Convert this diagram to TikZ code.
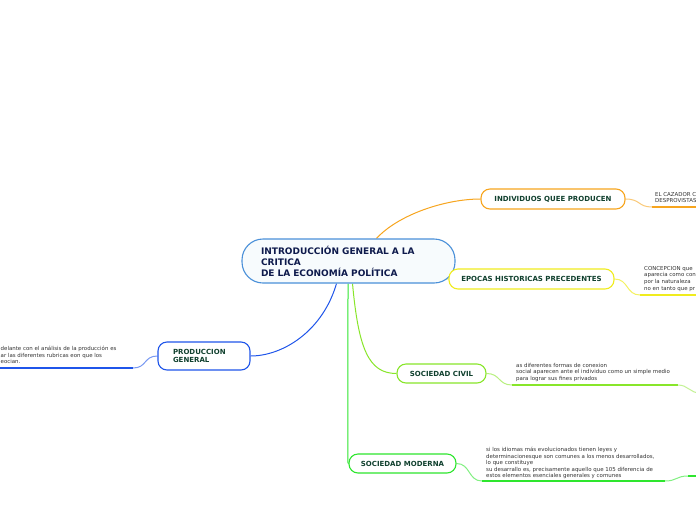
\documentclass[tikz,border=0pt]{standalone}
\usepackage{fontspec}
\setmainfont{DejaVu Sans}
\usetikzlibrary{calc, positioning}
\definecolor{mainblue}{HTML}{4A90D9}
\definecolor{mainfill}{HTML}{F7FBFD}
\definecolor{maintext}{HTML}{0E1A4C}
\definecolor{topictext}{HTML}{10402E}
\definecolor{notetext}{HTML}{333333}
\definecolor{myorange}{HTML}{F7A51E}
\definecolor{myyellow}{HTML}{F0EC1E}
\definecolor{mylime}{HTML}{88E62A}
\definecolor{mygreen}{HTML}{2EE62E}
\definecolor{myblue}{HTML}{1F55EA}
\pgfdeclarelayer{links}
\pgfsetlayers{links,main}
\tikzset{
	mainnode/.style={
			draw=mainblue,
			fill=mainfill,
			line width=1.1pt,
			rounded corners=21pt,
			text=maintext,
			font=\fontsize{9}{11}\selectfont\bfseries,
			text width=175pt,
			align=left,
			inner xsep=19pt,
			minimum height=44pt
		},
	topicnode/.style={
			draw=#1,
			fill=white,
			line width=1.1pt,
			rounded corners=9pt,
			text=topictext,
			font=\fontsize{7}{8.4}\selectfont\bfseries,
			inner sep=0pt,
			minimum height=19pt
		},
	notenode/.style={
			anchor=north west,
			inner sep=0pt,
			text=notetext,
			align=left,
			font=\fontsize{5.45}{6.6}\selectfont
		},
	linkline/.style={
			draw=#1,
			line width=1pt
		},
	underline/.style={
			draw=#1,
			line width=1.6pt
		}
}

\begin{document}
\begin{tikzpicture}[x=1pt, y=-1pt]
\begin{pgfonlayer}{links}
\fill[white] (0,0) rectangle (696,520);
\end{pgfonlayer}
\useasboundingbox (0,0) rectangle (696,520);
\clip (0,0) rectangle (696,520);

\node[mainnode] (n0) at (348.5,261) {INTRODUCCIÓN GENERAL A LA\\CRITICA\\DE LA ECONOMÍA POLÍTICA};

\node[topicnode=myorange, minimum width=144pt, minimum height=20pt] (n1) at (553,199) {INDIVIDUOS QUEE PRODUCEN};
\node[topicnode=myyellow, minimum width=165pt, minimum height=20pt] (n2) at (531.5,279) {EPOCAS HISTORICAS PRECEDENTES};
\node[topicnode=mylime, minimum width=89pt] (n3) at (441.5,373.5) {SOCIEDAD CIVIL};
\node[topicnode=mygreen, minimum width=107pt] (n4) at (402.5,463.5) {SOCIEDAD MODERNA};
\node[topicnode=myblue, minimum width=92pt, minimum height=28pt, text width=62pt, align=left] (n5) at (204,356) {PRODUCCION\\GENERAL};

% notes
\node[notenode] (t1) at (655,192) {EL CAZADOR C\\DESPROVISTAS};
\node[notenode] (t2) at (644,266) {CONCEPCION que\\aparecia como con\\por la naturaleza\\no en tanto que pr};
\node[notenode] (t3) at (516,363) {as diferentes formas de conexion\\social aparecen ante el individuo como un simple medio\\para lograr sus fines privados};
\node[notenode] (t4) at (486,447) {si los idiomas más evolucionados tienen leyes y\\determinacionesque son comunes a los menos desarrollados,\\lo que constituye\\su desarrallo es, precisamente aquello que 105 diferencia de\\estos elementos esenciales generales y comunes};
\node[notenode] (t5) at (0.5,346) {delante con el análisis de la producción es\\ar las diferentes rubricas eon que los\\eocian.};

\coordinate (u1) at (652,207);
\coordinate (u1e) at (700,207);
\coordinate (u2) at (640,295);
\coordinate (u2e) at (700,295);
\coordinate (u3) at (512,385);
\coordinate (u3e) at (678,385);
\coordinate (u3f) at (700,393);
\coordinate (u4) at (482,481);
\coordinate (u4e) at (665,481);
\coordinate (u4f) at (688,476);
\coordinate (u4g) at (700,476);
\coordinate (u5) at (133,368);
\coordinate (u5e) at (-4,368);

\begin{pgfonlayer}{links}
% topic links
\draw[linkline=myorange] ([xshift=28pt]n0.north) .. controls +(22,-24) and +(-35,0) .. (n1.west);
\draw[linkline=myyellow] ($(n0.east)+(-4,8)$) .. controls +(0,5) and +(-6,0) .. (n2.west);
\draw[linkline=mylime] ($(n0.south)+(4,0)$) .. controls +(6,65) and +(-28,0) .. (n3.west);
\draw[linkline=mygreen] ($(n0.south)+(-0.5,0)$) -- ($(n4.west)+(-0.5,-4)$) .. controls +(0,4) .. (n4.west);
\draw[linkline=myblue] ($(n0.south)+(-12,0)$) .. controls +(-14,48) and +(32,0) .. (n5.east);

% note links
\draw[linkline=myorange!60] (n1.east) .. controls +(15,0) and +(-14,0) .. (u1);
\draw[underline=myorange] (u1) -- (u1e);
\draw[linkline=myyellow!70] (n2.east) .. controls +(14,0) and +(-14,0) .. (u2);
\draw[underline=myyellow] (u2) -- (u2e);
\draw[linkline=mylime!60] (n3.east) .. controls +(14,0) and +(-14,0) .. (u3);
\draw[underline=mylime] (u3) -- (u3e);
\draw[linkline=mylime!50] (u3e) .. controls +(10,0) and +(-10,0) .. (u3f);
\draw[linkline=mygreen!60] (n4.east) .. controls +(14,0) and +(-14,0) .. (u4);
\draw[underline=mygreen] (u4) -- (u4e);
\draw[linkline=mygreen!60] (u4e) .. controls +(12,0) and +(-12,0) .. (u4f);
\draw[underline=mygreen] (u4f) -- (u4g);
\draw[linkline=myblue!60] (n5.west) .. controls +(-14,0) and +(14,0) .. (u5);
\draw[underline=myblue] (u5) -- (u5e);
\end{pgfonlayer}

\end{tikzpicture}
\end{document}
